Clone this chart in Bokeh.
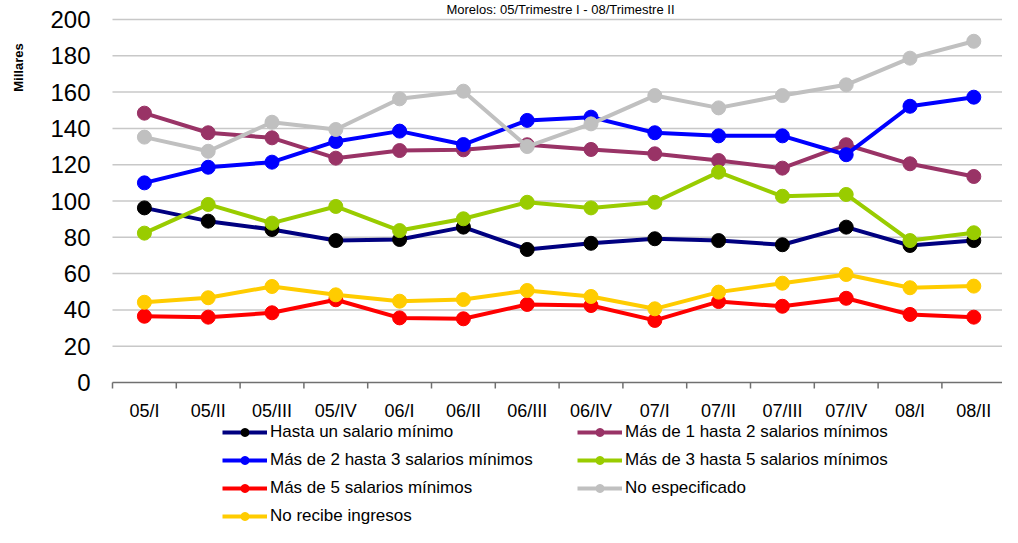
import math
from bokeh.plotting import figure
from bokeh.models import ColumnDataSource, Range1d, Legend, LegendItem, Label
from bokeh.core.properties import value
from bokeh.embed import file_html
from bokeh.resources import INLINE

categories = ["05/I", "05/II", "05/III", "05/IV", "06/I", "06/II", "06/III",
              "06/IV", "07/I", "07/II", "07/III", "07/IV", "08/I", "08/II"]
hasta_1 = [96.2, 88.9, 84.3, 78.2, 78.8, 85.6, 73.3, 76.7, 79.2, 78.2, 75.9, 85.6, 75.5, 78.2]
de_1_a_2 = [148.4, 137.6, 134.8, 123.6, 127.8, 128.2, 131.0, 128.4, 126.0, 122.3, 118.1, 131.0, 120.5, 113.5]
de_2_a_3 = [110.0, 118.6, 121.4, 132.8, 138.5, 131.1, 144.4, 146.2, 137.6, 135.9, 135.9, 125.5, 152.2, 157.2]
de_3_a_5 = [82.3, 98.1, 87.8, 97.0, 83.7, 90.2, 99.3, 96.2, 99.3, 115.9, 102.6, 103.6, 78.2, 82.5]
mas_5 = [36.5, 36.0, 38.4, 45.6, 35.6, 35.1, 43.0, 42.4, 34.2, 44.6, 42.0, 46.4, 37.5, 36.0]
no_especificado = [135.2, 127.4, 143.4, 139.4, 156.3, 160.5, 130.0, 142.5, 158.1, 151.3, 158.1, 164.0, 178.7, 188.0]
no_recibe = [44.2, 46.7, 52.9, 48.3, 44.8, 45.7, 50.7, 47.4, 40.6, 49.8, 54.7, 59.5, 52.2, 53.1]
y_ticks = [0, 20, 40, 60, 80, 100, 120, 140, 160, 180, 200]

series = [
    ("Hasta un salario mínimo", hasta_1, "#000080", "#000000"),
    ("Más de 1 hasta 2 salarios mínimos", de_1_a_2, "#993366", "#993366"),
    ("Más de 2 hasta 3 salarios mínimos", de_2_a_3, "#0000FF", "#0000FF"),
    ("Más de 3 hasta 5 salarios mínimos", de_3_a_5, "#99CC00", "#99CC00"),
    ("Más de 5 salarios mínimos", mas_5, "#FF0000", "#FF0000"),
    ("No especificado", no_especificado, "#C0C0C0", "#C0C0C0"),
    ("No recibe ingresos", no_recibe, "#FFCC00", "#FFCC00"),
]

FONT = "Liberation Sans"
W, H = 1002, 527
n = len(categories)
xs = [i + 0.5 for i in range(n)]

# layout: category pitch / origin in pixels, y scale in pixels
X0, PITCH = 112, 63.8
Y0PX, YTOPPX = 382, 19
YTOP = max(y_ticks)
ppu = (Y0PX - YTOPPX) / YTOP
x_range = Range1d(-X0 / PITCH, (W - X0) / PITCH)
y_range = Range1d(-(H - Y0PX) / ppu, YTOP + YTOPPX / ppu)

p = figure(width=W, height=H, output_backend="svg", toolbar_location=None,
           x_range=x_range, y_range=y_range,
           x_axis_location=None, y_axis_location=None,
           min_border=0, min_border_left=0, min_border_right=0,
           min_border_top=0, min_border_bottom=0)
p.outline_line_color = None
p.grid.visible = False
p.background_fill_color = "white"
p.border_fill_color = "white"

# gridlines
grid_y = [t for t in y_ticks if t > 0]
p.segment(x0=[0] * len(grid_y), x1=[n + 1] * len(grid_y), y0=grid_y, y1=grid_y,
          line_color="#C8C8C8", line_width=1.5)
# x axis line and boundary ticks
p.segment(x0=[0], x1=[n + 1], y0=[0], y1=[0], line_color="#707070", line_width=1.5)
bounds = list(range(n + 1))
tick_len = 6 / ppu
p.segment(x0=bounds, x1=bounds, y0=[0] * len(bounds), y1=[-tick_len] * len(bounds),
          line_color="#707070", line_width=1.5)

items = []
for name, vals, lc, mc in series:
    src = ColumnDataSource(dict(x=xs, y=vals))
    r1 = p.line("x", "y", source=src, line_color=lc, line_width=4)
    r2 = p.scatter("x", "y", source=src, size=14, fill_color=mc, line_color=mc)
    items.append(LegendItem(label=name, renderers=[r1, r2]))

# y tick labels
p.text(x=[-22 / PITCH] * len(y_ticks), y=y_ticks, text=[str(t) for t in y_ticks],
       text_align="right", text_baseline="middle", text_font=value(FONT),
       text_font_size="24px", text_color="black")
# x tick labels
p.text(x=xs, y=[-28 / ppu] * n, text=categories, text_align="center",
       text_baseline="middle", text_font=value(FONT), text_font_size="18px",
       text_color="black")

legend = Legend(items=items, orientation="horizontal", ncols=2,
                location=(222, 1), padding=0, margin=0, spacing=8,
                glyph_width=45, glyph_height=20, label_height=20,
                label_width=299, label_standoff=3,
                label_text_font=FONT, label_text_font_size="17px",
                label_text_color="black", border_line_color=None,
                background_fill_alpha=0)
p.add_layout(legend, "center")

p.add_layout(Label(x=(18 - X0) / PITCH, y=(Y0PX - 67) / ppu, text="Millares",
                   angle=math.pi / 2, text_align="center", text_baseline="middle",
                   text_font=FONT, text_font_style="bold", text_font_size="13px",
                   text_color="black"))
p.add_layout(Label(x=(560 - X0) / PITCH, y=YTOP + (YTOPPX - 1) / ppu,
                   text="Morelos: 05/Trimestre I - 08/Trimestre II",
                   text_align="center", text_baseline="top", text_font=FONT,
                   text_font_size="13px", text_color="black"))

open("out.html", "w").write(file_html(p, INLINE))
